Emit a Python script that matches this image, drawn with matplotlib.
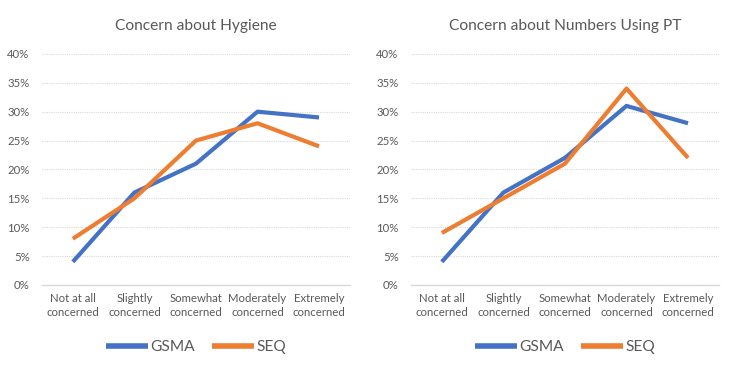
import matplotlib.pyplot as plt
from matplotlib.ticker import PercentFormatter

CATEGORIES = ['Not at all\nconcerned', 'Slightly\nconcerned', 'Somewhat\nconcerned',
              'Moderately\nconcerned', 'Extremely\nconcerned']

HYGIENE_GSMA = [4, 16, 21, 30, 29]
HYGIENE_SEQ = [8, 15, 25, 28, 24]
NUMBERS_GSMA = [4, 16, 22, 31, 28]
NUMBERS_SEQ = [9, 15, 21, 34, 22]

TITLES = ['Concern about Hygiene', 'Concern about Numbers Using PT']

BLUE = '#4472C4'
ORANGE = '#ED7D31'
TEXT = '#595959'
GRID = '#D9D9D9'

plt.rcParams['font.family'] = ['Lato', 'DejaVu Sans']

fig = plt.figure(figsize=(7.38, 3.72), dpi=100)
positions = [[0.057, 0.234, 0.417, 0.621], [0.557, 0.234, 0.417, 0.621]]
series = [(HYGIENE_GSMA, HYGIENE_SEQ), (NUMBERS_GSMA, NUMBERS_SEQ)]

for pos, title, (gsma, seq) in zip(positions, TITLES, series):
    ax = fig.add_axes(pos)
    x = range(len(CATEGORIES))
    ax.plot(x, gsma, color=BLUE, lw=3, label='GSMA', solid_capstyle='butt')
    ax.plot(x, seq, color=ORANGE, lw=3, label='SEQ', solid_capstyle='butt')
    ax.set_xlim(-0.5, len(CATEGORIES) - 0.5)
    ax.set_ylim(0, 40)
    ax.set_yticks(range(0, 41, 5))
    ax.yaxis.set_major_formatter(PercentFormatter(decimals=0))
    ax.set_xticks(list(x))
    ax.set_xticklabels(CATEGORIES, fontsize=8.2, color=TEXT, linespacing=1.3)
    ax.tick_params(axis='y', labelsize=8.2, labelcolor=TEXT, length=0, pad=9)
    ax.tick_params(axis='x', length=0, pad=6)
    ax.grid(axis='y', color=GRID, lw=0.8, ls=(0, (1, 1)))
    ax.set_axisbelow(True)
    for side in ['top', 'right', 'left']:
        ax.spines[side].set_visible(False)
    ax.spines['bottom'].set_color(GRID)
    ax.spines['bottom'].set_linewidth(1)
    ax.set_title(title, fontsize=11.2, color=TEXT, pad=17)
    ax.legend(loc='center', bbox_to_anchor=(0.5, -0.268), ncol=2, frameon=False,
              fontsize=11.2, labelcolor=TEXT, handlelength=2.7, handletextpad=0.15,
              columnspacing=1.1, handleheight=0.5)
    for line in ax.get_legend().get_lines():
        line.set_linewidth(4)

fig.savefig('out.png', dpi=100)
